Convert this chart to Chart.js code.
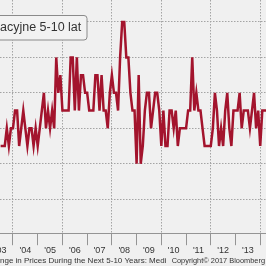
<!DOCTYPE html>
<html lang="pl">
<head>
<meta charset="UTF-8">
<title>Oczekiwania inflacyjne 5-10 lat</title>
<script src="https://cdn.jsdelivr.net/npm/chart.js"></script>
<style>
  html, body { margin: 0; padding: 0; background: #f0f0f0; overflow: hidden; }
  .wrap { width: 266px; height: 266px; }
</style>
</head>
<body>
<div class="wrap"><canvas id="chart" width="266" height="266"></canvas></div>
<script>
// monthly readings from Jul 2003 to Apr 2014 (month index 0 = Jan 2004)
const firstMonth = -6;
const values = [
  2.7, 2.7, 2.7, 2.8, 2.7, 2.8,                                // 2003 H2
  2.8, 2.9, 2.9, 2.7, 2.8, 2.9, 2.8, 2.7, 2.8, 2.8, 2.7, 2.8,  // 2004
  2.7, 2.8, 2.9, 3.0, 2.8, 2.9, 2.8, 2.9, 2.8, 3.2, 3.0, 3.1,  // 2005
  2.9, 2.9, 2.9, 2.9, 3.2, 3.2, 2.9, 3.2, 2.9, 3.1, 3.1, 3.0,  // 2006
  3.0, 2.9, 2.9, 2.9, 3.1, 3.1, 2.9, 3.1, 2.9, 2.9, 2.8, 3.0,  // 2007
  3.1, 3.0, 3.0, 2.9, 3.2, 3.4, 3.4, 3.2, 3.2, 3.0, 2.9, 2.9,  // 2008
  2.6, 3.1, 2.6, 2.7, 2.9, 3.0, 3.0, 2.8, 2.9, 3.0, 3.0, 2.9,  // 2009
  2.7, 2.9, 2.7, 2.7, 2.9, 2.9, 2.8, 2.9, 2.7, 2.8, 2.8, 2.8,  // 2010
  2.8, 2.9, 2.9, 3.2, 2.9, 3.0, 2.9, 2.9, 2.8, 2.7, 2.7, 2.7,  // 2011
  2.7, 2.8, 3.0, 2.9, 2.7, 2.8, 2.7, 2.9, 3.0, 2.8, 2.7, 2.9,  // 2012
  2.9, 2.9, 3.0, 2.8, 2.9, 2.9, 2.9, 2.8, 2.9, 3.0, 2.8, 2.9,  // 2013
  2.7, 2.9, 2.9, 2.9                                           // 2014
];
const yearLabels = ["'03", "'04", "'05", "'06", "'07", "'08", "'09", "'10", "'11", "'12", "'13", "'14"];
const gridLevels = [2.4, 2.6, 2.8, 3.0, 3.2, 3.4];

const legendText = 'acyjne 5-10 lat';
const sourceText = 'nge in Prices During the Next 5-10 Years: Medi';
const copyrightText = 'Copyright\u00A9 2017 Bloomberg';

const lineRed = '#a3142d';
const gridGray = '#a4a4a4';
const tickGray = '#949494';
const textGray = '#333333';
const fontFamily = '"Liberation Sans", Arial, sans-serif';

const mod12 = v => ((v % 12) + 12) % 12;
const points = values.map((v, i) => ({ x: firstMonth + i, y: v }));

// grey background over the whole picture
const background = {
    id: 'background',
    beforeDraw(chart) {
        const ctx = chart.ctx;
        ctx.save();
        ctx.fillStyle = '#f0f0f0';
        ctx.fillRect(0, 0, chart.width, chart.height);
        ctx.restore();
    }
};

// legend box and footer texts
const notes = {
    id: 'notes',
    afterDraw(chart) {
        const ctx = chart.ctx;
        ctx.save();
        ctx.beginPath();
        ctx.roundRect(-10, 15.5, 97, 24.5, 3);
        ctx.fillStyle = '#f2f2f2';
        ctx.fill();
        ctx.strokeStyle = '#8a8a8a';
        ctx.lineWidth = 1;
        ctx.stroke();

        ctx.fillStyle = textGray;
        ctx.textBaseline = 'middle';
        ctx.textAlign = 'left';
        ctx.font = '12.5px ' + fontFamily;
        ctx.fillText(legendText, 0, 28);

        ctx.font = '8px ' + fontFamily;
        ctx.fillText(sourceText, 0, 261);
        ctx.textAlign = 'right';
        ctx.font = '7.4px ' + fontFamily;
        ctx.fillText(copyrightText, 265, 261);
        ctx.restore();
    }
};

new Chart(document.getElementById('chart'), {
    type: 'line',
    data: {
        datasets: [{
            data: points,
            borderColor: lineRed,
            borderWidth: 2.5,
            pointRadius: 0,
            tension: 0,
            fill: false
        }]
    },
    options: {
        responsive: false,
        animation: false,
        layout: { padding: { left: 0, right: 0, top: 0, bottom: 10 } },
        plugins: { legend: { display: false }, tooltip: { enabled: false } },
        scales: {
            x: {
                type: 'linear',
                min: -6.3,
                max: 122.8,
                afterBuildTicks: scale => {
                    const t = [];
                    for (let m = -6; m <= 120; m += 6) t.push({ value: m });
                    scale.ticks = t;
                },
                afterFit: scale => { scale.paddingLeft = 0; scale.paddingRight = 0; },
                grid: {
                    color: c => (c.tick && mod12(c.tick.value) === 0 && c.tick.value % 24 === 0) ? gridGray : 'rgba(0,0,0,0)',
                    tickColor: c => (c.tick && mod12(c.tick.value) === 0) ? tickGray : 'rgba(0,0,0,0)',
                    tickLength: 12
                },
                border: { display: true, color: tickGray, dash: [1.5, 1.5] },
                ticks: {
                    autoSkip: false,
                    maxRotation: 0,
                    padding: 0,
                    color: textGray,
                    font: { size: 9, family: fontFamily },
                    callback: v => mod12(v) === 6 ? yearLabels[(v + 6) / 12] : ''
                }
            },
            y: {
                min: 2.208,
                max: 3.524,
                afterBuildTicks: scale => { scale.ticks = gridLevels.map(v => ({ value: v })); },
                ticks: { display: false },
                grid: { color: gridGray, drawTicks: false },
                border: { display: false, dash: [1.5, 1.5] }
            }
        }
    },
    plugins: [background, notes]
});
</script>
</body>
</html>
